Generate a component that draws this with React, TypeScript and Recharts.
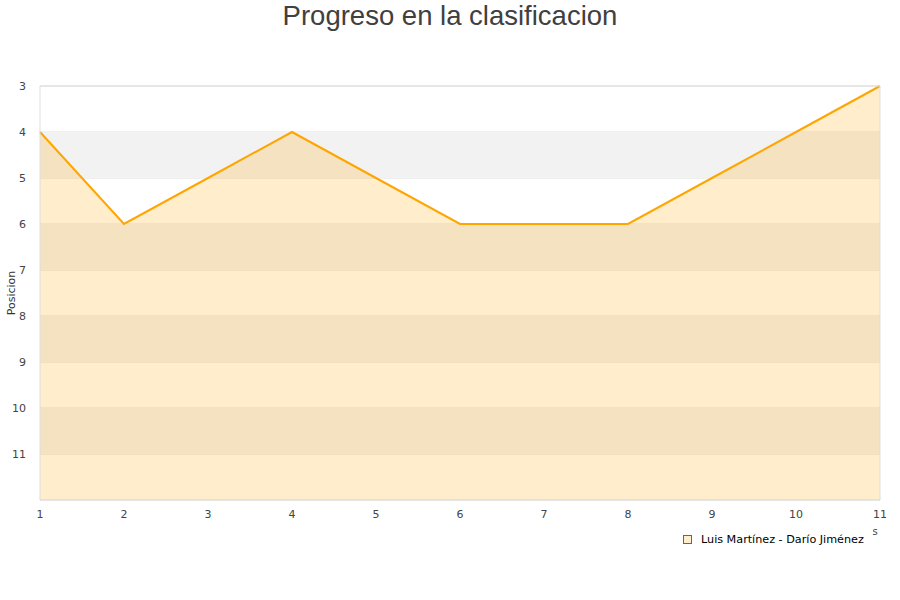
import React from 'react';
import { ComposedChart, Area, XAxis, YAxis, CartesianGrid, ReferenceArea, ReferenceLine, Legend } from 'recharts';

const rounds = [1, 2, 3, 4, 5, 6, 7, 8, 9, 10, 11];
const positions = [4, 6, 5, 4, 5, 6, 6, 6, 5, 4, 3];
const yTicks = [3, 4, 5, 6, 7, 8, 9, 10, 11];
const bands = [[4, 5], [6, 7], [8, 9], [10, 11]];
const seriesName = 'Luis Martínez - Darío Jiménez';

const data = rounds.map((r, i) => ({ round: r, pos: positions[i] }));

const font = 'DejaVu Sans, sans-serif';

const LegendContent = () => (
  <div style={{ display: 'flex', alignItems: 'center', fontFamily: font, fontSize: 11.2, color: '#000' }}>
    <span style={{ display: 'inline-block', width: 7, height: 7, border: '1px solid #666', background: '#ffedcc', marginRight: 9 }} />
    <span>{seriesName}</span>
  </div>
);

const XLabel = (props: any) => {
  const vb = props.viewBox || {};
  return (
    <text x={vb.x + vb.width - 5} y={vb.y + vb.height + 5} fill="#444" fontSize={10} fontFamily={font} textAnchor="middle">
      s
    </text>
  );
};

const YLabel = (props: any) => {
  const vb = props.viewBox || {};
  const cx = 11;
  const cy = vb.y + vb.height / 2;
  return (
    <text x={cx} y={cy} fill="#333" fontSize={11} fontFamily={font} textAnchor="middle" dominantBaseline="central" transform={`rotate(-90 ${cx} ${cy})`}>
      Posicion
    </text>
  );
};

export default function App() {
  return (
    <div style={{ position: 'absolute', left: 0, top: 0, width: 900, height: 600, background: '#fff' }}>
      <div style={{ position: 'absolute', left: 0, top: 0, width: 900, textAlign: 'center', fontFamily: 'Liberation Sans, Arial, sans-serif', fontSize: 27.5, color: '#404040', lineHeight: '32px' }}>
        Progreso en la clasificacion
      </div>
      <ComposedChart width={900} height={600} data={data} margin={{ top: 86, right: 20, bottom: 54, left: 0 }}>
        {bands.map(([a, b]) => (
          <ReferenceArea key={a} y1={a} y2={b} fill="#f2f2f2" fillOpacity={1} stroke="none" ifOverflow="hidden" />
        ))}
        <CartesianGrid vertical={false} stroke="#e0e0e0" strokeWidth={1} />
        <XAxis
          dataKey="round"
          type="number"
          domain={[1, 11]}
          ticks={rounds}
          tickLine={false}
          axisLine={{ stroke: '#dddddd' }}
          tick={{ fill: '#444', fontSize: 11, fontFamily: font }}
          height={30}
          tickMargin={4}
          label={<XLabel />}
        />
        <YAxis
          type="number"
          reversed
          domain={[3, 12]}
          ticks={yTicks}
          interval={0}
          tickLine={false}
          axisLine={{ stroke: '#dddddd' }}
          tick={{ fill: '#444', fontSize: 11, fontFamily: font }}
          width={40}
          tickMargin={8}
          label={<YLabel />}
        />
        <ReferenceLine x={11} stroke="#dddddd" ifOverflow="extendDomain" />
        <ReferenceLine y={3} stroke="#dddddd" />
        <Area
          dataKey="pos"
          name={seriesName}
          type="linear"
          baseValue={12}
          stroke="#ffa500"
          strokeWidth={2}
          fill="#ffa500"
          fillOpacity={0.2}
          dot={false}
          activeDot={false}
          isAnimationActive={false}
        />
        <Legend
          content={<LegendContent />}
          wrapperStyle={{ position: 'absolute', left: 683, top: 533, width: 210, height: 16 }}
        />
      </ComposedChart>
    </div>
  );
}
